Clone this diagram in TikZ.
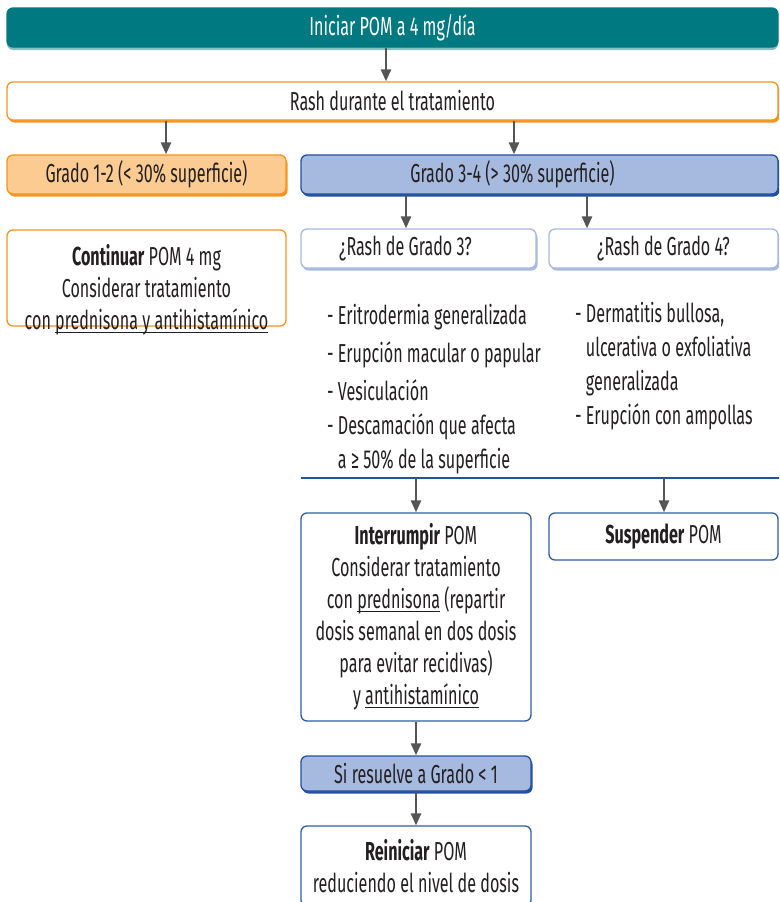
\documentclass[tikz,border=0pt]{standalone}
\usepackage{fontspec}
\setmainfont{Fira Sans}[FakeStretch=0.62]
\usetikzlibrary{arrows.meta, shadows}

\definecolor{pomteal}{RGB}{0,121,128}
\definecolor{pomtealsh}{RGB}{135,190,194}
\definecolor{pomorange}{RGB}{247,148,30}
\definecolor{pompeach}{RGB}{252,203,146}
\definecolor{pomblue}{RGB}{33,81,161}
\definecolor{pommblue}{RGB}{46,93,168}
\definecolor{pomlblue}{RGB}{166,186,223}
\definecolor{pomtext}{RGB}{35,31,32}
\definecolor{pomarrow}{RGB}{85,85,85}

\newsavebox{\pombox}
\newcommand{\pomline}[1]{\sbox{\pombox}{#1}\rlap{\rule[-3.5pt]{\wd\pombox}{1pt}}\usebox{\pombox}}

\begin{document}
\begin{tikzpicture}[x=1pt, y=-1pt, font=\fontsize{26}{32}\selectfont, text=pomtext]
  \tikzstyle{box}=[draw, line width=1.3pt, rounded corners=6pt, inner sep=0pt, align=center]
  \tikzstyle{obox}=[box, draw=pomorange, fill=white]
  \tikzstyle{bbox}=[box, draw=pommblue, fill=white]
  \tikzstyle{oshad}=[drop shadow={shadow xshift=1.5pt, shadow yshift=-2.5pt, fill=pomorange, opacity=1}]
  \tikzstyle{bshad}=[drop shadow={shadow xshift=1.5pt, shadow yshift=-2.5pt, fill=pomblue, opacity=1}]
  \tikzstyle{lshad}=[drop shadow={shadow xshift=1.5pt, shadow yshift=-2.5pt, fill=pomlblue, opacity=1}]
  \tikzstyle{item}=[anchor=west, align=left, inner sep=0pt, font=\fontsize{26}{34}\selectfont]
  \tikzstyle{arr}=[draw=pomarrow, line width=2.5pt, -{Triangle[width=10pt,length=12pt]}]
  \clip (0,0) rectangle (779,902);

  % top and first split
  \node[box, draw=pomteal, fill=pomteal, text=white, minimum width=771, minimum height=39,
        drop shadow={shadow xshift=0pt, shadow yshift=-3pt, fill=pomtealsh, opacity=1}]
        (start) at (392.5,27.5) {Iniciar POM a 4 mg/día};
  \node[obox, oshad, minimum width=771, minimum height=38] (rash) at (392.5,101) {Rash durante el tratamiento};
  \node[obox, oshad, fill=pompeach, minimum width=279, minimum height=39] (g12) at (146.5,174.5) {Grado 1-2 (< 30\% superficie)};
  \node[box, bshad, draw=pomblue, fill=pomlblue, minimum width=477, minimum height=39,
        label={[xshift=-27pt]center:Grado 3-4 (> 30\% superficie)}] (g34) at (539.5,174.5) {};

  % grado 1-2
  \node[obox, minimum width=279, minimum height=96] (cont) at (146.5,278) {};
  \node[align=center, inner sep=0pt] (conttxt) at (146.5,290)
        {\textbf{Continuar} POM 4 mg\\Considerar tratamiento\\con \pomline{prednisona y antihistamínico}};

  % grado 3-4
  \node[box, lshad, draw=pomlblue, fill=white, minimum width=235, minimum height=39,
        label={[xshift=-13pt]center:¿Rash de Grado 3?}] (r3) at (418.5,248.5) {};
  \node[box, lshad, draw=pomlblue, fill=white, minimum width=229, minimum height=39] (r4) at (663.5,248.5) {¿Rash de Grado 4?};

  \node[item] (l31) at (327,317) {- Eritrodermia generalizada};
  \node[item] (l32) at (327,355) {- Erupción macular o papular};
  \node[item] (l33) at (327,390) {- Vesiculación};
  \node[item] (l34) at (327,444) {- Descamación que afecta\\\phantom{- }a ≥ 50\% de la superficie};
  \node[item] (l41) at (575,349.5) {- Dermatitis bullosa,\\\phantom{- }ulcerativa o exfoliativa\\\phantom{- }generalizada};
  \node[item] (l42) at (575,417) {- Erupción con ampollas};

  \coordinate (sepA) at (301,478);
  \coordinate (sepB) at (779,478);
  \draw[pomblue, line width=2pt] (sepA) -- (sepB);

  \node[bbox, minimum width=230, minimum height=208] (stop) at (416,617)
        {\textbf{Interrumpir} POM\\Considerar tratamiento\\con \pomline{prednisona} (repartir\\dosis semanal en dos dosis\\para evitar recidivas)\\y \pomline{antihistamínico}};
  \node[bbox, minimum width=229, minimum height=47] (susp) at (663.5,536.5) {\textbf{Suspender} POM};
  \node[box, bshad, draw=pomblue, fill=pomlblue, minimum width=230, minimum height=35] (res) at (416,773.5) {Si resuelve a Grado < 1};
  \node[bbox, minimum width=230, minimum height=80] (restart) at (416,866)
        {\textbf{Reiniciar} POM\\reduciendo el nivel de dosis};

  % arrow columns
  \coordinate (c0) at (386,0);
  \coordinate (c1) at (166,0);
  \coordinate (c2) at (514,0);
  \coordinate (c3) at (406,0);
  \coordinate (c4) at (587,0);
  \coordinate (c5) at (416,478);
  \coordinate (c6) at (664,478);

  \draw[arr] (start.south -| c0) -- (rash.north -| c0);
  \draw[arr] (rash.south -| c1) -- (g12.north -| c1);
  \draw[arr] (rash.south -| c2) -- (g34.north -| c2);
  \draw[arr] (g34.south -| c3) -- (r3.north -| c3);
  \draw[arr] (g34.south -| c4) -- (r4.north -| c4);
  \draw[arr] (c5) -- (stop.north -| c5);
  \draw[arr] (c6) -- (susp.north -| c6);
  \draw[arr] (stop.south) -- (res.north);
  \draw[arr] (res.south) -- (restart.north);
\end{tikzpicture}
\end{document}
